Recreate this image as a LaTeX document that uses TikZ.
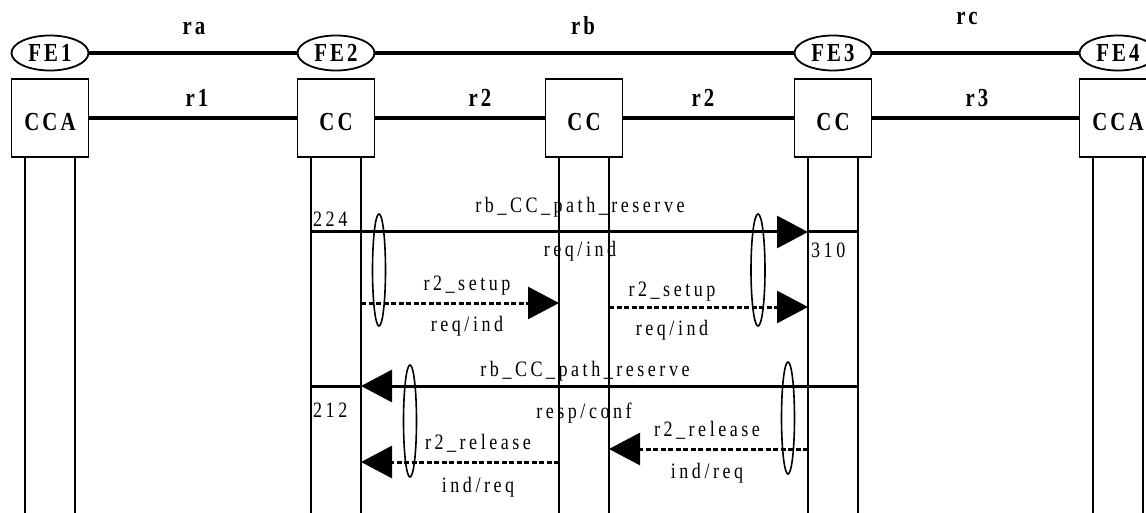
\documentclass[tikz,border=0pt]{standalone}
\usepackage{fontspec}
\setmainfont{Liberation Serif}
\newfontfamily\sigfont[LetterSpace=16,FakeStretch=0.82]{Liberation Serif}
\newfontfamily\hdfont[LetterSpace=12,FakeStretch=0.8]{Liberation Serif}
\usetikzlibrary{arrows.meta,shapes.geometric,positioning}
\begin{document}
\begin{tikzpicture}[x=1pt,y=-1pt,
        hd/.style={font=\hdfont\bfseries\fontsize{26}{28}\selectfont,inner sep=0pt},
        lbl/.style={font=\sigfont\fontsize{22}{24}\selectfont,inner sep=0pt,anchor=base},
        num/.style={lbl,anchor=base west},
        fe/.style={hd,draw,ellipse,line width=1.8pt,minimum width=77pt,minimum height=35pt},
        ccbox/.style={hd,draw,line width=1.8pt,minimum width=77pt,minimum height=78pt,text height=25pt,text depth=0pt},
        link/.style={line width=4pt},
        life/.style={line width=1.6pt},
        msg/.style={line width=3pt,-{Triangle[length=31pt,width=32pt]}},
        sig/.style={msg,dash pattern=on 5pt off 2.5pt},
        ring/.style={line width=1.6pt}]
        \useasboundingbox (0,0) rectangle (1146,513);
        \clip (0,0) rectangle (1146,513);

        % Bloques CC y lineas de vida
        \foreach \col/\x/\txt in {a/50/CCA,b/336/CC,m/584/CC,c/833/CC,d/1118/CCA}{
            \node[ccbox] (\col) at (\x,118) {\txt};
            \coordinate (\col L) at ([xshift=-25pt]\col.south);
            \coordinate (\col R) at ([xshift=25pt]\col.south);
            \draw[life] (\col L) -- (\col L |- 0,513);
            \draw[life] (\col R) -- (\col R |- 0,513);
        }
        % Entidades funcionales
        \foreach \n/\x in {1/50,2/336,3/833,4/1118}
            \node[fe] (fe\n) at (\x,53) {FE\n};

        % Relaciones ra, rb, rc
        \draw[link] (fe1) -- (fe2) (fe2) -- (fe3) (fe3) -- (fe4);
        \node[hd,anchor=base] (lra) at (194,35) {ra};
        \node[hd,anchor=base] (lrb) at (583,35) {rb};
        \node[hd,anchor=base] (lrc) at (967,25) {rc};
        % Relaciones r1, r2, r3
        \draw[link,line width=3.5pt] (a) -- (b) (b) -- (m) (m) -- (c) (c) -- (d);
        \node[hd,anchor=base] (lr1) at (197,107) {r1};
        \node[hd,anchor=base] (lr2a) at (480,107) {r2};
        \node[hd,anchor=base] (lr2b) at (703,107) {r2};
        \node[hd,anchor=base] (lr3) at (977,107) {r3};

        % rb_CC_path_reserve req/ind
        \draw[msg] (bL |- 0,232) -- (cL |- 0,232);
        \draw[line width=3pt] (cL |- 0,232) -- (cR |- 0,232);
        \node[lbl] (s1) at (580,213) {rb\_CC\_path\_reserve};
        \node[lbl] (p1) at (580,257) {req/ind};
        \node[num] (n224) at (313,226) {224};
        \node[num] (n310) at (811,258) {310};

        % r2_setup
        \draw[sig] (bR |- 0,303) -- (mL |- 0,303);
        \node[lbl] (s2) at (467,290) {r2\_setup};
        \node[lbl] (p2) at (467,331) {req/ind};
        \draw[sig] (mR |- 0,307) -- (cL |- 0,307);
        \node[lbl] (s3) at (672,296) {r2\_setup};
        \node[lbl] (p3) at (672,335) {req/ind};

        % rb_CC_path_reserve resp/conf
        \draw[msg] (cR |- 0,386) -- (bR |- 0,386);
        \draw[line width=3pt] (bR |- 0,386) -- (bL |- 0,386);
        \node[lbl] (s4) at (585,376) {rb\_CC\_path\_reserve};
        \node[lbl] (p4) at (584,418) {resp/conf};
        \node[num] (n212) at (313,417) {212};

        % r2_release
        \draw[sig] (mL |- 0,462) -- (bR |- 0,462);
        \node[lbl] (s5) at (478,449) {r2\_release};
        \node[lbl] (p5) at (478,492) {ind/req};
        \draw[sig] (cL |- 0,449) -- (mR |- 0,449);
        \node[lbl] (s6) at (707,436) {r2\_release};
        \node[lbl] (p6) at (707,478) {ind/req};

        % Elipses de agrupacion
        \draw[ring] (379,270) ellipse [x radius=6.5,y radius=56];
        \draw[ring] (758,270) ellipse [x radius=7,y radius=56];
        \draw[ring] (410,421) ellipse [x radius=6.5,y radius=56];
        \draw[ring] (788,418) ellipse [x radius=6.5,y radius=56];
    \end{tikzpicture}
\end{document}
